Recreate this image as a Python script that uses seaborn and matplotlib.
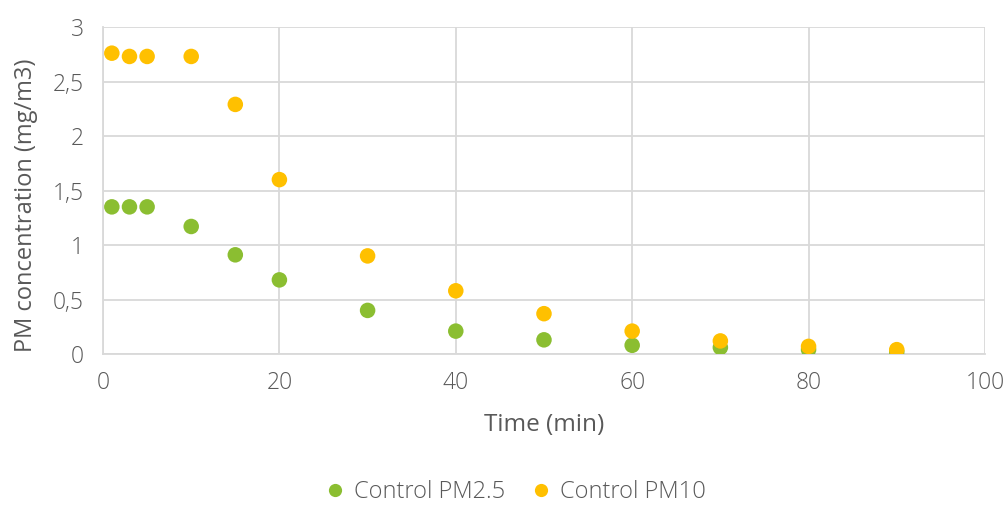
import matplotlib
matplotlib.use("Agg")
import matplotlib.pyplot as plt
import matplotlib.ticker as mticker
import numpy as np
import pandas as pd
import seaborn as sns

# Sampling times (min)
time_min = [1, 3, 5, 10, 15, 20, 30, 40, 50, 60, 70, 80, 90]
# Particulate matter concentrations (mg/m3)
pm25 = [1.35, 1.35, 1.35, 1.17, 0.91, 0.68, 0.40, 0.21, 0.13, 0.08, 0.06, 0.04, 0.02]
pm10 = [2.76, 2.73, 2.73, 2.73, 2.29, 1.60, 0.90, 0.58, 0.37, 0.21, 0.12, 0.07, 0.04]
series_names = ["Control PM2.5", "Control PM10"]
series_colors = ["#8BBE31", "#FFC000"]

df = pd.concat([
    pd.DataFrame({"Time": time_min, "PM": pm25, "Series": series_names[0]}),
    pd.DataFrame({"Time": time_min, "PM": pm10, "Series": series_names[1]}),
], ignore_index=True)

sns.set_theme(style="white")
plt.rcParams["font.family"] = ["Open Sans", "DejaVu Sans"]
plt.rcParams["font.weight"] = 300
text_color = "#595959"
grid_color = "#D9D9D9"

fig = plt.figure(figsize=(10.07, 5.05), dpi=100)
ax = fig.add_axes([0.1023, 0.299, 0.8758, 0.6475])

sns.scatterplot(data=df, x="Time", y="PM", hue="Series", hue_order=series_names,
                palette=series_colors, s=125, edgecolor="none", linewidth=0,
                ax=ax, legend=True, zorder=3)

ax.set_xlim(0, 100)
ax.set_ylim(0, 3)
ax.set_xticks(np.arange(0, 101, 20))
ax.set_yticks(np.arange(0, 3.01, 0.5))
ax.yaxis.set_major_formatter(mticker.FuncFormatter(
    lambda v, p: ("%g" % v).replace(".", ",")))

ax.grid(True, color=grid_color, linewidth=1.3)
ax.set_axisbelow(True)
for side in ["top", "right"]:
    ax.spines[side].set_visible(False)
for side in ["left", "bottom"]:
    ax.spines[side].set_color(grid_color)
    ax.spines[side].set_linewidth(1.3)

ax.tick_params(axis="x", length=0, labelsize=16.5, labelcolor=text_color, pad=12)
ax.tick_params(axis="y", length=0, labelsize=16.5, labelcolor=text_color, pad=14)
ax.set_xlabel("Time (min)", fontsize=17.5, color=text_color, labelpad=13)
ax.set_ylabel("PM concentration (mg/m3)", fontsize=17, color=text_color)
ax.yaxis.set_label_coords(-0.074, 0.455)

handles, labels = ax.get_legend_handles_labels()
ax.legend_.remove()
fig.legend(handles, labels, loc="center", bbox_to_anchor=(0.505, 0.026), ncol=2,
           frameon=False, fontsize=17, labelcolor=text_color, handletextpad=-0.2,
           columnspacing=0.5, markerscale=0.85)

fig.savefig("out.png", dpi=100)
